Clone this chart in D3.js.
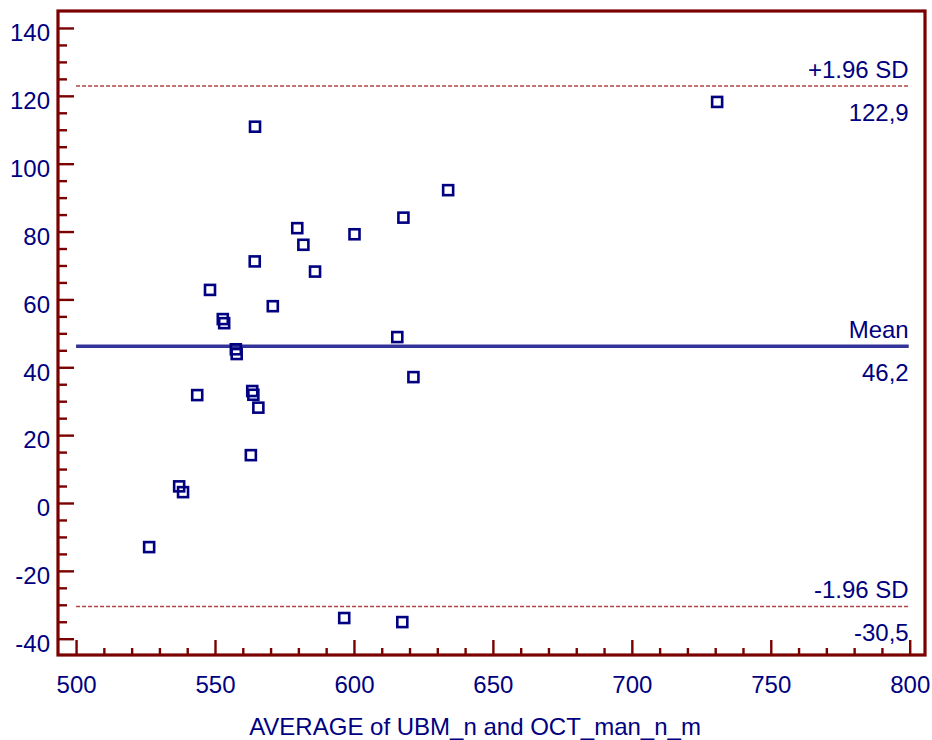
<!DOCTYPE html>
<html>
<head>
<meta charset="utf-8">
<script src="https://cdn.jsdelivr.net/npm/d3@7"></script>
<style>
  body { margin: 0; background: #fff; }
  text { font-family: "Liberation Sans", Arial, sans-serif; }
</style>
</head>
<body>
<script>
// chart data
var avgValues = [526.3, 537.1, 538.5, 543.6, 548.2, 552.8, 553.3, 557.5, 557.8, 563.4,
                 563.8, 565.6, 562.9, 564.4, 564.3, 570.8, 579.6, 581.8, 586.0, 600.2,
                 615.6, 621.4, 617.8, 633.9, 730.7, 596.5, 617.4];
var diffValues = [-13.0, 4.9, 3.2, 31.8, 62.8, 54.2, 53.0, 45.3, 43.9, 33.0,
                  31.9, 28.1, 14.1, 110.9, 71.2, 58.0, 81.0, 76.1, 68.2, 79.2,
                  48.9, 37.1, 84.1, 92.2, 118.2, -33.9, -35.1];
var xTicks = [500, 550, 600, 650, 700, 750, 800];
var yTicks = [-40, -20, 0, 20, 40, 60, 80, 100, 120, 140];
var refLines = [
  {name: "+1.96 SD", value: 122.9, label: "122,9", kind: "sd"},
  {name: "Mean", value: 46.2, label: "46,2", kind: "mean"},
  {name: "-1.96 SD", value: -30.5, label: "-30,5", kind: "sd"}
];
var xTitle = "AVERAGE of UBM_n and OCT_man_n_m";

var w = 932, h = 740;
var axisColor = "#7b0000", textColor = "#000080", markColor = "#000080";
var fs = 24; // font size

var svg = d3.select("body").append("svg")
    .attr("width", w)
    .attr("height", h);

var x = d3.scaleLinear().domain([493.5, 805.5]).range([58, 925]);
var y = d3.scaleLinear().domain([-44.8, 145]).range([655, 11]);

var xMinor = d3.range(510, 800, 10).filter(function(d){ return d % 50 !== 0; });
var yMinor = d3.range(-35, 145, 5).filter(function(d){ return d % 20 !== 0; });

// reference lines
var refG = svg.append("g").attr("class", "refLines");
refLines.forEach(function(r){
  var ly = y(r.value);
  refG.append("line")
    .attr("x1", x(500)).attr("x2", x(800) - 1)
    .attr("y1", ly).attr("y2", ly)
    .attr("stroke", r.kind === "mean" ? "#333399" : "#b04444")
    .attr("stroke-width", r.kind === "mean" ? 3.5 : 1.3)
    .attr("stroke-dasharray", r.kind === "mean" ? null : "4,2");
  refG.append("text")
    .attr("x", x(800) - 1).attr("y", ly - 8)
    .attr("text-anchor", "end")
    .attr("font-size", fs).attr("fill", textColor)
    .text(r.name);
  refG.append("text")
    .attr("x", x(800) - 1).attr("y", ly + 35)
    .attr("text-anchor", "end")
    .attr("font-size", fs).attr("fill", textColor)
    .text(r.label);
});

// points
svg.append("g").attr("class", "points")
  .selectAll("rect")
  .data(avgValues)
  .enter().append("rect")
  .attr("x", function(d){ return x(d) - 5; })
  .attr("y", function(d, i){ return y(diffValues[i]) - 5; })
  .attr("width", 10).attr("height", 10)
  .attr("fill", "none")
  .attr("stroke", markColor)
  .attr("stroke-width", 2.6);

// axes (ticks point inward)
var yAxis = svg.append("g").attr("transform", "translate(58,0)")
  .call(d3.axisLeft(y).tickValues(yTicks).tickSize(-16).tickPadding(8)
        .tickFormat(function(d){ return String(d); }));
svg.append("g").attr("transform", "translate(58,0)")
  .call(d3.axisLeft(y).tickValues(yMinor).tickSize(-9).tickFormat(""));

var xAxis = svg.append("g").attr("transform", "translate(0,655)")
  .call(d3.axisBottom(x).tickValues(xTicks).tickSize(-15).tickPadding(21)
        .tickFormat(function(d){ return String(d); }));
svg.append("g").attr("transform", "translate(0,655)")
  .call(d3.axisBottom(x).tickValues(xMinor).tickSize(-7).tickFormat(""));

svg.selectAll(".domain").remove();
svg.selectAll(".tick line").attr("stroke", axisColor).attr("stroke-width", 2.4);
svg.selectAll(".tick text")
  .attr("fill", textColor)
  .style("font-size", fs + "px")
  .style("font-family", "'Liberation Sans', Arial, sans-serif");
yAxis.selectAll(".tick text").attr("dy", "0.53em");

// frame
svg.append("rect")
  .attr("x", 58).attr("y", 11)
  .attr("width", 925 - 58).attr("height", 655 - 11)
  .attr("fill", "none")
  .attr("stroke", axisColor)
  .attr("stroke-width", 3.2);

// axis title
svg.append("text")
  .attr("x", 475).attr("y", 735)
  .attr("text-anchor", "middle")
  .attr("font-size", fs).attr("fill", textColor)
  .text(xTitle);
</script>
</body>
</html>
